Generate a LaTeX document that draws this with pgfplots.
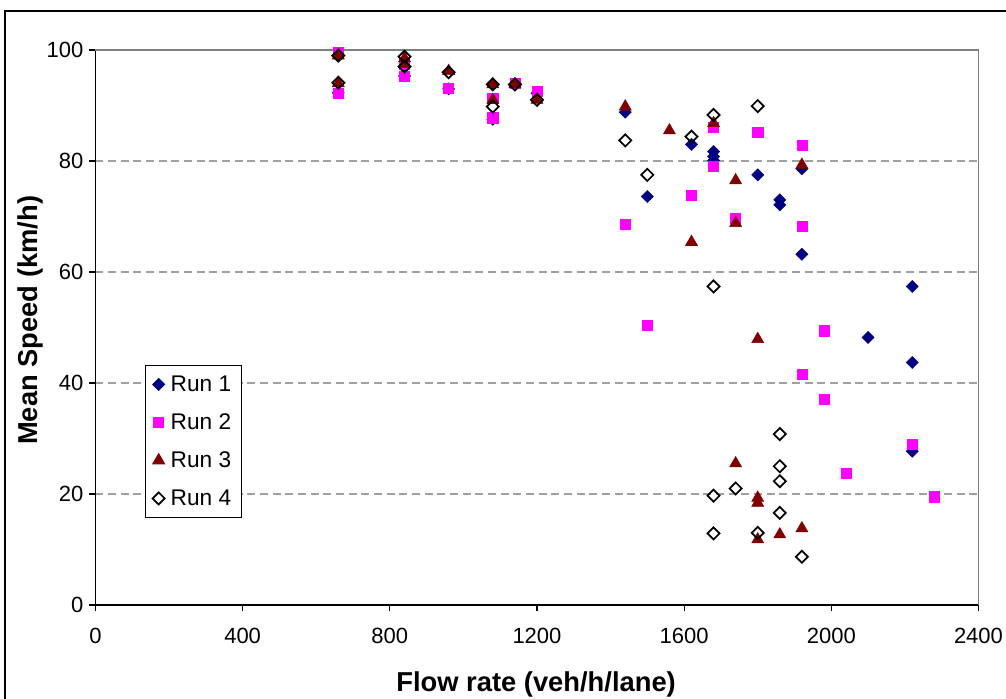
\documentclass[border=0pt]{standalone}
\usepackage{fontspec}
\setmainfont{Liberation Sans}
\usepackage{pgfplots}
\pgfplotsset{compat=1.18}

\definecolor{runone}{RGB}{0,0,128}
\definecolor{runtwo}{RGB}{255,0,255}
\definecolor{runthree}{RGB}{128,0,0}
\definecolor{gridgray}{RGB}{160,160,160}
\definecolor{boxgray}{RGB}{128,128,128}

\begin{document}
\begin{tikzpicture}
\useasboundingbox (0,0) rectangle (754.5pt,524.25pt);
% chart frame (cut off at right and bottom as in the original)
\draw[line width=1.1pt] (3.75pt,-2pt) -- (3.75pt,516pt) -- (757pt,516pt);
\begin{axis}[
    at={(71.6pt,70.5pt)}, anchor=south west,
    scale only axis, width=662.25pt, height=416.25pt,
    xmin=0, xmax=2400, ymin=0, ymax=100,
    xtick={0,400,...,2400}, ytick={0,20,...,100},
    axis lines*=left,
    axis line style={black, line width=0.8pt},
    tick align=outside, major tick length=4.5pt,
    tick style={black, line width=0.8pt},
    ymajorgrids,
    grid style={gridgray, dash pattern=on 6pt off 3.5pt, line width=0.8pt},
    clip=false,
    /pgf/number format/assume math mode=true,
    /pgf/number format/1000 sep={},
    ticklabel style={font=\fontsize{16.5}{19}\selectfont},
    xticklabel style={yshift=-9pt},
    yticklabel style={xshift=-1pt},
    xlabel={Flow rate (veh/h/lane)},
    ylabel={Mean Speed (km/h)},
    label style={font=\bfseries\fontsize{20.5}{24}\selectfont},
    xlabel style={at={(axis description cs:0.499,-0.143)}, anchor=center},
    ylabel style={at={(axis description cs:-0.074,0.513)}, anchor=center, rotate=0},
    legend style={at={(axis description cs:0.056,0.432)}, anchor=north west,
        draw=black, line width=0.6pt, fill=white,
        font=\fontsize{17}{20}\selectfont, row sep=11.2pt, column sep=2.5pt,
        inner xsep=5.5pt, inner ysep=5.5pt},
    legend cell align=left,
]
\draw[boxgray, line width=1.2pt] (rel axis cs:0,1) -- (rel axis cs:1,1) -- (rel axis cs:1,0);

% Run 1
\addplot[only marks, mark=square*, mark size=3.2pt, mark options={rotate=45, fill=runone, draw=runone}]
coordinates {
(660,99) (660,92.3) (840,95.3) (840,97) (960,93) (1080,87.5) (1080,93.8)
(1140,93.8) (1200,92.2) (1440,88.8) (1500,73.6) (1620,83.0)
(1680,81.7) (1680,80.8) (1680,80.1) (1800,77.5) (1860,73.0) (1860,72.1)
(1920,78.6) (1920,63.2) (2100,48.2) (2220,57.4) (2220,43.7) (2220,27.7)
};
\addlegendentry{Run 1}

% Run 2
\addplot[only marks, mark=square*, mark size=3.8pt, mark options={fill=runtwo, draw=runtwo}]
coordinates {
(660,99.5) (660,92.2) (840,95.3) (840,97.5) (960,93.1) (1080,91.3) (1080,87.8)
(1140,94) (1200,92.5) (1440,68.6) (1500,50.4) (1620,73.8)
(1680,86.1) (1680,79.0) (1740,69.7) (1800,85.1)
(1920,82.9) (1920,68.3) (1920,41.6) (1980,49.4) (1980,37.1)
(2040,23.8) (2220,29.0) (2280,19.5)
};
\addlegendentry{Run 2}

% Run 3
\addplot[only marks, mark=triangle*, mark size=5.2pt, mark options={fill=runthree, draw=runthree}]
coordinates {
(660,99) (660,94) (840,98.5) (840,97.5) (960,96.2) (1080,93.8) (1080,91)
(1140,93.8) (1200,91) (1440,89.8) (1560,85.5) (1620,65.4) (1680,86.8)
(1740,76.5) (1740,68.8) (1740,25.5) (1800,47.9) (1800,19.3) (1800,18.4)
(1800,11.8) (1860,12.7) (1920,79.3) (1920,13.8)
};
\addlegendentry{Run 3}

% Run 4
\addplot[only marks, mark=square, mark size=3.2pt, mark options={rotate=45, draw=black, line width=1.3pt}]
coordinates {
(660,99) (660,94.1) (840,98.8) (840,97) (960,96) (1080,93.8) (1080,89.8)
(1140,93.8) (1200,91) (1440,83.7) (1500,77.5) (1620,84.4)
(1680,88.3) (1680,57.4) (1680,19.7) (1680,12.9) (1740,21.0)
(1800,89.9) (1800,13.0) (1860,30.8) (1860,25.0) (1860,22.3) (1860,16.6)
(1920,8.7)
};
\addlegendentry{Run 4}
\end{axis}
\end{tikzpicture}
\end{document}
